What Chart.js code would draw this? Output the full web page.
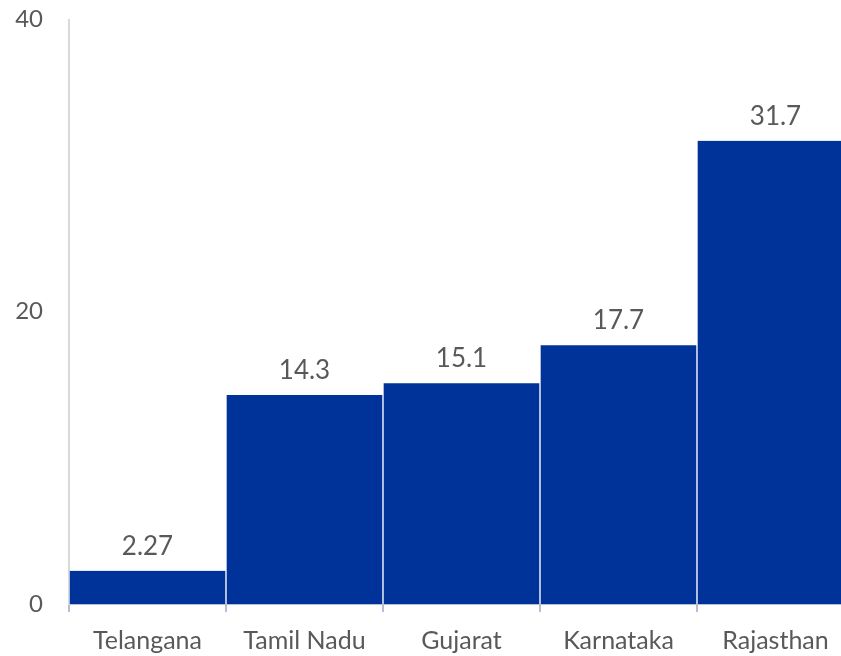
<!DOCTYPE html>
<html>
<head>
<meta charset="utf-8">
<script src="https://cdn.jsdelivr.net/npm/chart.js@4"></script>
<style>
html,body{margin:0;padding:0;background:#fff;overflow:hidden;}
#wrap{width:841px;height:656px;overflow:hidden;position:relative;}
#c{display:block;}
</style>
</head>
<body>
<div id="wrap"><canvas id="c" width="854" height="656"></canvas></div>
<script>
const categories = ['Telangana', 'Tamil Nadu', 'Gujarat', 'Karnataka', 'Rajasthan'];
const values = [2.27, 14.3, 15.1, 17.7, 31.7];
const yTicks = [0, 20, 40];

const FONT = 'Lato, "Open Sans", sans-serif';
const TEXT = '#595959';

const labelPlugin = {
  id: 'valueLabels',
  afterDatasetsDraw(chart) {
    const ctx = chart.ctx;
    const meta = chart.getDatasetMeta(0);
    ctx.save();
    ctx.font = '26px ' + FONT;
    ctx.fillStyle = TEXT;
    ctx.textAlign = 'center';
    ctx.textBaseline = 'alphabetic';
    meta.data.forEach((bar, i) => {
      ctx.fillText(String(values[i]), bar.x, bar.y - 16);
    });
    ctx.restore();
  }
};

new Chart(document.getElementById('c'), {
  type: 'bar',
  data: {
    labels: categories,
    datasets: [{
      data: values,
      backgroundColor: '#003399',
      borderColor: '#ffffff',
      borderWidth: {left: 1, right: 1, top: 0, bottom: 0},
      borderSkipped: false,
      barPercentage: 1,
      categoryPercentage: 1
    }]
  },
  options: {
    responsive: false,
    animation: false,
    devicePixelRatio: 1,
    layout: {padding: {top: 19.5, right: 0, bottom: 0, left: 0}},
    plugins: {legend: {display: false}, tooltip: {enabled: false}},
    scales: {
      x: {
        grid: {drawOnChartArea: false, tickLength: 8, color: '#b4bfd6', lineWidth: 2, offset: true},
        border: {color: '#b4bfd6', width: 2},
        ticks: {font: {family: FONT, size: 25}, color: TEXT, padding: 14, maxRotation: 0},
        afterFit(scale) { scale.height = 52; scale.paddingLeft = 0; scale.paddingRight = 0; }
      },
      y: {
        min: 0, max: 40,
        afterBuildTicks(scale) { scale.ticks = yTicks.map(v => ({value: v})); },
        grid: {display: false, drawTicks: false},
        border: {color: '#d9d9d9', width: 2},
        ticks: {font: {family: FONT, size: 24}, color: TEXT, padding: 26},
        afterFit(scale) { scale.width = 69; scale.paddingTop = 0; scale.paddingBottom = 0; }
      }
    }
  },
  plugins: [labelPlugin]
});
</script>
</body>
</html>
